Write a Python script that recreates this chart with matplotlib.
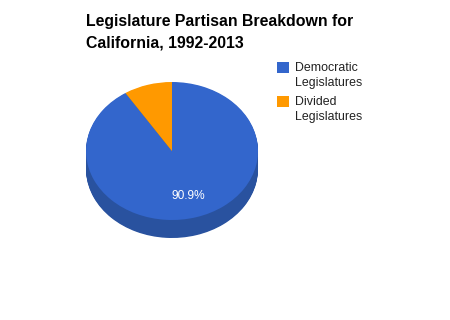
import matplotlib
matplotlib.use("Agg")
import matplotlib.pyplot as plt
from matplotlib.patches import Rectangle

categories = ["Democratic\nLegislatures", "Divided\nLegislatures"]
values = [20, 2]
colors = ["#3366cc", "#ff9900"]
side_colors = ["#29529f", "#c27400"]
title = "Legislature Partisan Breakdown for\nCalifornia, 1992-2013"

W, H = 450, 320
fig = plt.figure(figsize=(W / 100, H / 100), dpi=100)
fig.patch.set_facecolor("white")

# overlay axes in pixel coordinates
ov = fig.add_axes([0, 0, 1, 1])
ov.set_xlim(0, W)
ov.set_ylim(H, 0)
ov.axis("off")

# pie geometry (pixels)
cx, cy, rx, ry, depth = 172, 151, 86, 69, 18
left, right = cx - rx, cx + rx
top, bottom = cy - ry, cy + ry + depth
pax = fig.add_axes([left / W, 1 - bottom / H, (right - left) / W, (bottom - top) / H])
d = depth / ry


def pct(p):
    return f"{p:.1f}%" if p > 20 else ""


nlayers = 24
for i in range(nlayers, 0, -1):
    off = d * i / nlayers
    pax.pie(values, colors=side_colors, startangle=90, counterclock=False,
            center=(0, -off), radius=1, wedgeprops=dict(linewidth=0))
pax.pie(values, colors=colors, startangle=90, counterclock=False,
        center=(0, 0), radius=1, wedgeprops=dict(linewidth=0),
        autopct=pct, pctdistance=0.68,
        textprops=dict(color="white", fontsize=8.6, family="Liberation Sans"))
pax.set_aspect("auto")
pax.set_xlim(-1, 1)
pax.set_ylim(-1 - d, 1)
pax.axis("off")

# title
for j, line in enumerate(title.split("\n")):
    ov.text(86, 26 + 21 * j, line, fontsize=11.4, fontweight="bold",
            family="Liberation Sans", color="black", ha="left", va="baseline")

# legend
ly = [62, 96]
for i, (lab, col) in enumerate(zip(categories, colors)):
    ov.add_patch(Rectangle((277, ly[i]), 12, 11, facecolor=col, edgecolor="none"))
    for j, line in enumerate(lab.split("\n")):
        ov.text(295, ly[i] + 9 + 15 * j, line, fontsize=8.9, family="Liberation Sans",
                color="#222222", ha="left", va="baseline")

fig.savefig("out.png", dpi=100)
